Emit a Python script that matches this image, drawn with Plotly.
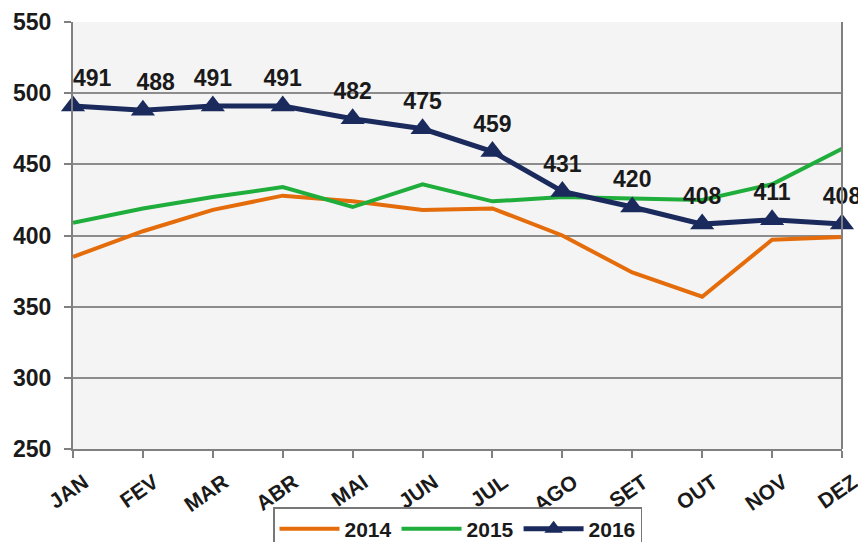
import plotly.graph_objects as go

months = ["JAN", "FEV", "MAR", "ABR", "MAI", "JUN", "JUL", "AGO", "SET", "OUT", "NOV", "DEZ"]
v2014 = [385, 403, 418, 428, 424, 418, 419, 400, 374, 357, 397, 399]
v2015 = [409, 419, 427, 434, 420, 436, 424, 427, 426, 425, 436, 461]
v2016 = [491, 488, 491, 491, 482, 475, 459, 431, 420, 408, 411, 408]
yticks = [250, 300, 350, 400, 450, 500, 550]
# leading figure spaces nudge the first two labels to the right, as in the original
label_pad = ["\u2007\u2007\u2007", "\u2007\u2007"] + [""] * 10

FONT = "Liberation Sans"

fig = go.Figure()
fig.add_trace(go.Scatter(x=months, y=v2014, name="2014", mode="lines",
                         line=dict(color="#e46c0a", width=4), cliponaxis=False))
fig.add_trace(go.Scatter(x=months, y=v2015, name="2015", mode="lines",
                         line=dict(color="#1fad3b", width=4), cliponaxis=False))
fig.add_trace(go.Scatter(x=months, y=v2016, name="2016", mode="lines+markers+text",
                         line=dict(color="#1b2a5c", width=5), cliponaxis=False,
                         marker=dict(symbol="triangle-up", size=21, color="#1b2a5c"),
                         text=[p + str(v) for p, v in zip(label_pad, v2016)],
                         textposition="top center",
                         textfont=dict(family=FONT, size=23, color="#1a1a1a", weight="bold")))

# the page adds an 8px body margin, so the figure is 8px smaller and margins shifted
fig.update_layout(
    width=858, height=534,
    margin=dict(l=65, r=24, t=14, b=93, autoexpand=False),
    paper_bgcolor="white", plot_bgcolor="#f4f4f4",
    font=dict(family=FONT, color="#1a1a1a"),
    showlegend=True,
    legend=dict(orientation="h", x=0.5, xanchor="center", y=-0.136, yanchor="top",
                bordercolor="#777777", borderwidth=1.5, bgcolor="white",
                font=dict(family=FONT, size=21, color="#1a1a1a", weight="bold"),
                itemwidth=60, entrywidthmode="pixels"),
    xaxis=dict(range=[0, 11], showgrid=False, showline=True, linecolor="#808080", linewidth=2,
               ticks="outside", ticklen=7, tickcolor="#808080", tickwidth=2, tickangle=-35,
               ticklabelshift=11, ticklabelstandoff=4,
               tickfont=dict(family=FONT, size=21, color="#1a1a1a", weight="bold"),
               automargin=False),
    yaxis=dict(range=[250, 550], tickvals=yticks, showgrid=True, gridcolor="#8c8c8c", gridwidth=1.5,
               showline=True, linecolor="#808080", linewidth=2, ticks="outside", ticklen=7,
               tickcolor="#808080", tickwidth=2, zeroline=False, automargin=False,
               ticklabelstandoff=8,
               tickfont=dict(family=FONT, size=23, color="#1a1a1a", weight="bold")),
)
fig.add_shape(type="line", xref="paper", yref="paper", x0=1, x1=1, y0=0, y1=1,
              line=dict(color="#808080", width=2))
fig.write_html("out.html")
